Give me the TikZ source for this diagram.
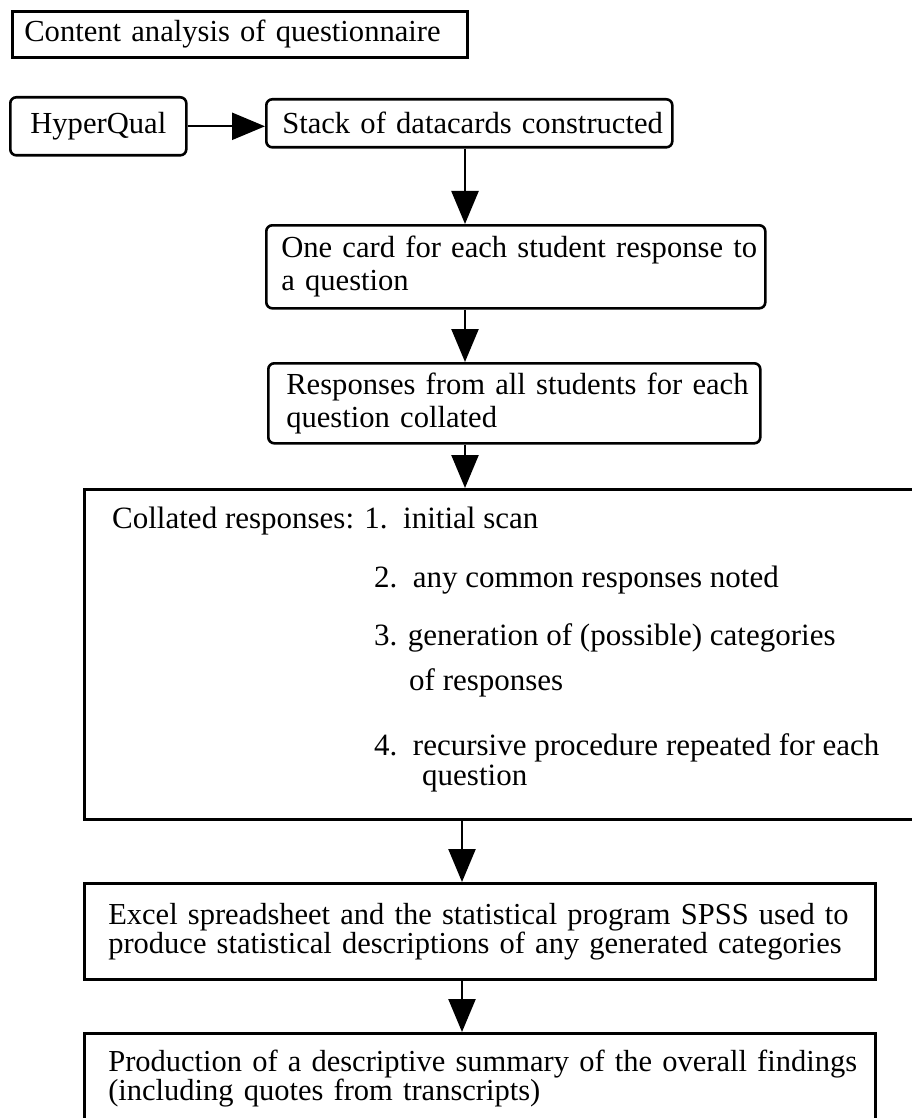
\documentclass[tikz,border=0pt]{standalone}
\usepackage{fontspec}
\setmainfont{Liberation Serif}
\usetikzlibrary{positioning, arrows.meta}

\begin{document}
\begin{tikzpicture}[
    x=1pt, y=-1pt,
    box/.style={
        rectangle,
        draw=black,
        line width=2.6pt,
        anchor=north west,
        align=left,
        font=\fontsize{30.6}{33}\selectfont
    },
    roundbox/.style={
        box,
        rounded corners=6pt
    },
    lowbox/.style={
        box,
        font=\fontsize{30.5}{29}\selectfont
    },
    listtext/.style={
        anchor=base west,
        inner sep=0pt,
        font=\fontsize{31}{33}\selectfont
    },
    arrow/.style={
        -{Triangle[length=33pt, width=27pt]},
        line width=2.4pt
    }
]
\useasboundingbox (0,0) rectangle (911,1118);

% Nodes
\node[box, text width=431, inner xsep=12, minimum height=46] (title) at (11,10) {\mbox{Content analysis of questionnaire}};
\node[roundbox, align=center, inner xsep=0, minimum width=176, minimum height=58] (hyper) at (9,96) {HyperQual};
\node[roundbox, text width=374, inner xsep=16, minimum height=48] (stack) at (265,98) {\mbox{Stack of datacards constructed}};
\node[roundbox, text width=469, inner xsep=15, minimum height=83] (card) at (265,224) {\mbox{One card for each student response to}\\a question};
\node[roundbox, text width=456, inner xsep=18, minimum height=80] (resp) at (267,362) {\mbox{Responses from all students for each}\\question collated};
\node[box, minimum width=860, minimum height=330] (collate) at (83,488) {};
\node[lowbox, text width=743, inner xsep=24, minimum height=96] (excel) at (83,882) {\mbox{Excel spreadsheet and the statistical program SPSS used to}\\\mbox{produce statistical descriptions of any generated categories}};
\node[lowbox, text width=743, inner xsep=24, minimum height=90] (summary) at (83,1032) {\mbox{Production of a descriptive summary of the overall findings}\\(including quotes from transcripts)};

% List inside the collation box
\node[listtext] (step1) at (112,528) {Collated responses: 1.~~initial scan};
\node[listtext] (step2) at (374,587) {2.~~any common responses noted};
\node[listtext] (step3) at (374,645) {3. generation of (possible) categories};
\node[listtext] (step3b) at (409,690) {of responses};
\node[listtext] (step4) at (374,755) {4.~~recursive procedure repeated for each};
\node[listtext] (step4b) at (422,785) {question};

% Arrows
\coordinate (spine) at (465,0);
\coordinate (spinelow) at (462,0);
\draw[arrow] (hyper.east) -- (hyper.east -| stack.west);
\draw[arrow] (stack.south -| spine) -- (card.north -| spine);
\draw[arrow] (card.south -| spine) -- (resp.north -| spine);
\draw[arrow] (resp.south -| spine) -- (collate.north -| spine);
\draw[arrow] (collate.south -| spinelow) -- (excel.north -| spinelow);
\draw[arrow] (excel.south -| spinelow) -- (summary.north -| spinelow);

\end{tikzpicture}
\end{document}
